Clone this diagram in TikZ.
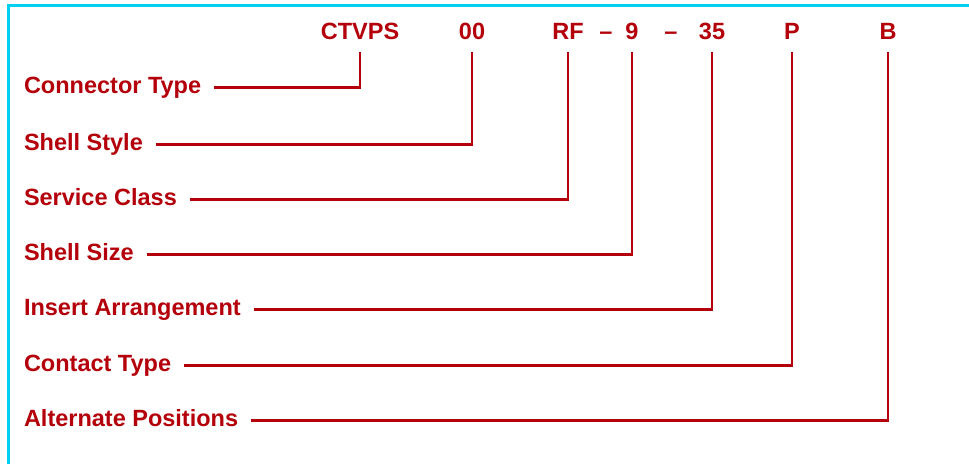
\documentclass[tikz,border=0pt]{standalone}
\usepackage{fontspec}
\setmainfont{Liberation Sans}
\usetikzlibrary{positioning}
\definecolor{codered}{RGB}{180,0,10}
\definecolor{framecyan}{RGB}{0,208,240}

\begin{document}
\begin{tikzpicture}[x=1pt,y=-1pt,font=\fontsize{23.5}{28}\selectfont\bfseries,
  code/.style={text=codered,anchor=base,inner xsep=0pt,inner ysep=13pt,text depth=0pt,outer sep=0pt},
  field/.style={text=codered,anchor=base west,inner xsep=13pt,text height=11pt,text depth=0pt,outer sep=0pt},
  lead/.style={draw=codered,line width=2.2pt}]
\useasboundingbox (0,0) rectangle (969,464);
% frame
\draw[framecyan,line width=3pt] (8,464)--(8,5)--(969,5);
% part number
\foreach \name/\x/\txt in {ctvps/360/CTVPS,style/472/00,class/568/RF,dasha/606/--,size/632/9,dashb/671/--,arr/712/35,contact/792/P,alt/888/B}{
 \node[code] (\name) at (\x,39) {\txt};
}
% fields and leads
\foreach \name/\y/\txt/\tgt in {ftype/93/Connector Type/ctvps,fstyle/150/Shell Style/style,fclass/205/Service Class/class,fsize/260/Shell Size/size,farr/315/Insert Arrangement/arr,fcontact/371/Contact Type/contact,falt/426/Alternate Positions/alt}{
 \node[field] (\name) at (11,\y) {\txt};
 \draw[lead] (\name.east) -| (\tgt.south);
}
\end{tikzpicture}
\end{document}
